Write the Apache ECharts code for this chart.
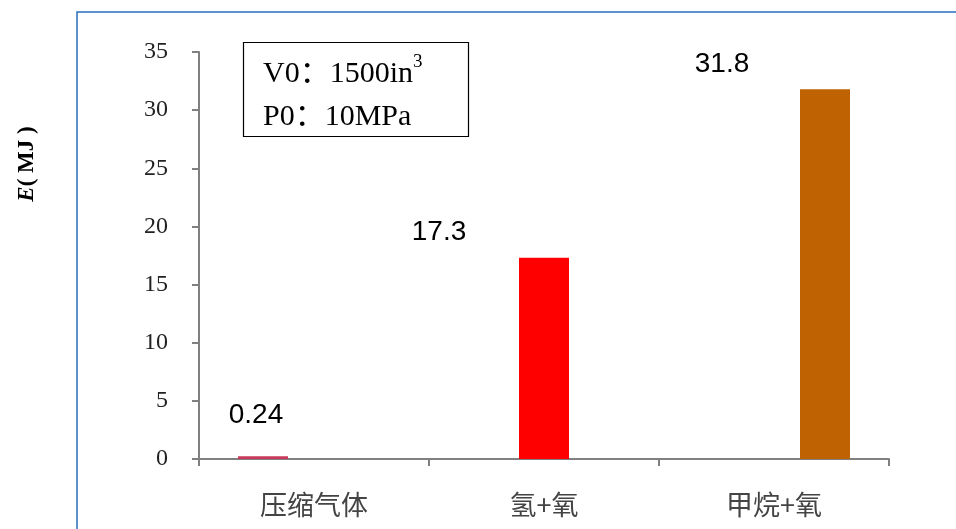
<!DOCTYPE html>
<html>
<head>
<meta charset="utf-8">
<script src="https://cdn.jsdelivr.net/npm/echarts@6/dist/echarts.min.js"></script>
<style>
html,body{margin:0;padding:0;background:#fff;}
#chart{width:956px;height:529px;}
</style>
</head>
<body>
<div id="chart"></div>
<script>
// Data
var categories = ['压缩气体', '氢+氧', '甲烷+氧'];
var compressedGas = [0.24, '-', '-'];
var hydrogenOxygen = ['-', 17.3, '-'];
var methaneOxygen = ['-', '-', 31.8];
var yMin = 0, yMax = 35, yInterval = 5;
var yAxisTitle = ['E', '( MJ )'];
var noteLines = ['V0：1500in', '3', 'P0：10MPa'];

var chart = echarts.init(document.getElementById('chart'), null, {renderer: 'canvas'});

var serif = "'Liberation Serif', 'Times New Roman', serif";
var serifCjk = "'Liberation Serif', 'Noto Sans CJK SC', serif";
var sans = "'Liberation Sans', Arial, sans-serif";

function barSeries(name, data, color, labelOffset) {
  return {
    name: name,
    type: 'bar',
    data: data,
    barWidth: 50,
    barGap: '2%',
    itemStyle: {color: color},
    label: {
      show: true,
      position: 'top',
      distance: 0,
      offset: labelOffset,
      color: '#000',
      fontFamily: sans,
      fontSize: 28
    }
  };
}

var option = {
  animation: false,
  backgroundColor: '#fff',
  grid: {left: 199, right: 67, top: 52, bottom: 70, containLabel: false},
  xAxis: {
    type: 'category',
    data: categories,
    boundaryGap: true,
    axisLine: {show: true, lineStyle: {color: '#808080', width: 2}},
    axisTick: {show: true, length: 7, lineStyle: {color: '#808080', width: 2}},
    axisLabel: {margin: 32, color: '#444', fontSize: 27, fontFamily: "'Noto Sans CJK SC', sans-serif"},
    splitLine: {show: false}
  },
  yAxis: {
    type: 'value',
    min: yMin,
    max: yMax,
    interval: yInterval,
    axisLine: {show: true, lineStyle: {color: '#808080', width: 2}},
    axisTick: {show: true, length: 7, lineStyle: {color: '#808080', width: 2}},
    axisLabel: {margin: 31, color: '#222', fontSize: 24, fontFamily: serif},
    splitLine: {show: false}
  },
  series: [
    barSeries('压缩气体', compressedGas, '#C8385A', [-7, -27]),
    barSeries('氢+氧', hydrogenOxygen, '#FF0000', [-105, -12]),
    barSeries('甲烷+氧', methaneOxygen, '#BF6202', [-103, -11])
  ],
  graphic: [
    {
      type: 'rect',
      shape: {x: 77, y: 12, width: 1000, height: 700},
      style: {fill: 'none', stroke: '#2A6EBB', lineWidth: 1.5},
      silent: true
    },
    {
      type: 'rect',
      shape: {x: 243.5, y: 42.5, width: 225, height: 94},
      style: {fill: '#fff', stroke: '#000', lineWidth: 1.2},
      z: 10
    },
    {
      type: 'text',
      left: 263,
      top: 53,
      z: 11,
      style: {
        text: '{t|' + noteLines[0] + '}{s|' + noteLines[1] + '}\n{t|' + noteLines[2] + '}',
        rich: {
          t: {fontFamily: serifCjk, fontSize: 30, lineHeight: 43, color: '#000'},
          s: {fontFamily: serif, fontSize: 19, lineHeight: 43, color: '#000', verticalAlign: 'top', padding: [0, 0, 12, 0]}
        }
      }
    },
    {
      type: 'text',
      x: 27,
      y: 164,
      rotation: Math.PI / 2,
      z: 11,
      style: {
        text: '{i|' + yAxisTitle[0] + '}{b|' + yAxisTitle[1] + '}',
        align: 'center',
        verticalAlign: 'middle',
        rich: {
          i: {fontFamily: serif, fontSize: 23, fontWeight: 'bold', fontStyle: 'italic', color: '#000'},
          b: {fontFamily: serif, fontSize: 23, fontWeight: 'bold', color: '#000'}
        }
      }
    }
  ]
};
chart.setOption(option);
</script>
</body>
</html>
